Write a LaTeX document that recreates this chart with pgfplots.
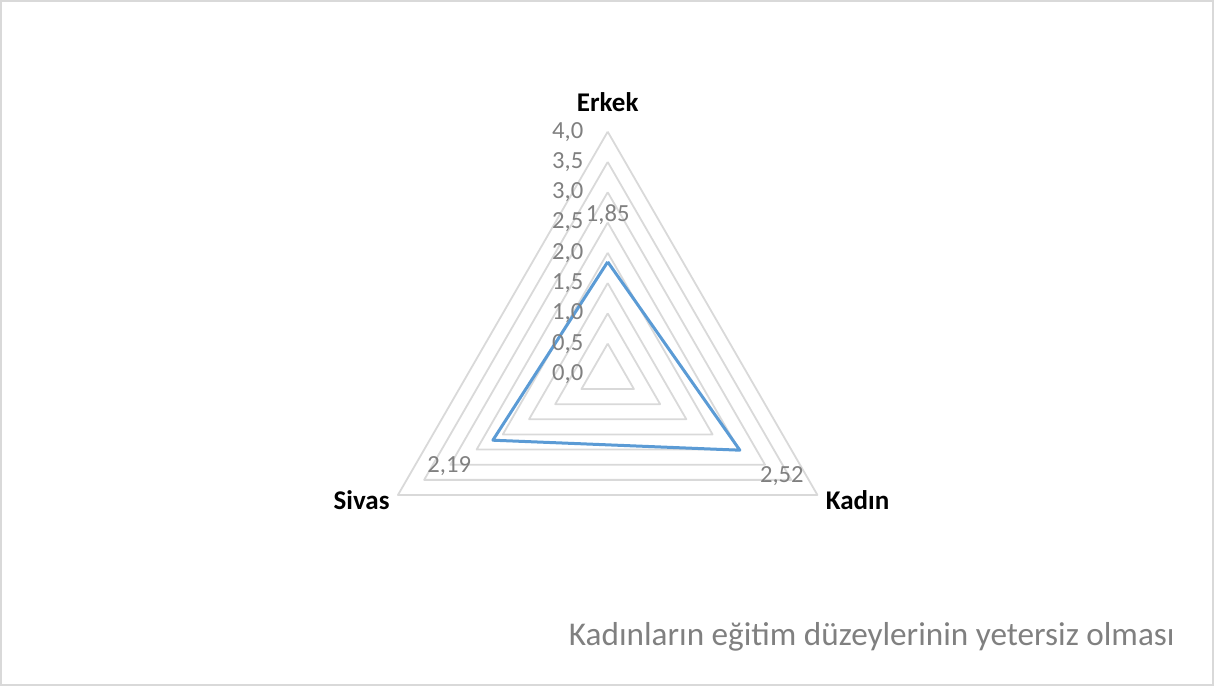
\documentclass[border=0pt]{standalone}
\usepackage{fontspec}
\setmainfont{Carlito}
\usepackage{pgfplots}
\pgfplotsset{compat=1.18}
\usepgfplotslibrary{polar}
\definecolor{gridc}{HTML}{D9D9D9}
\definecolor{labc}{HTML}{808080}
\definecolor{serc}{HTML}{5B9BD5}
\begin{document}
\begin{tikzpicture}
\useasboundingbox (0pt,0pt) rectangle (607pt,343pt);
\draw[gridc, line width=1pt] (0.5pt,0.5pt) rectangle (606.5pt,342.5pt);
\begin{polaraxis}[
  at={(303.85pt,156.05pt)}, anchor=center,
  scale only axis, width=242.2pt, height=242.2pt,
  xmin=0, xmax=360, ymin=0, ymax=4,
  hide axis, clip=false,
]
\pgfplotsinvokeforeach{0.5,1.0,1.5,2.0,2.5,3.0,3.5,4.0}{
  \addplot[gridc, line width=0.9pt, line join=round] coordinates {(90,#1) (330,#1) (210,#1) (90,#1)};
}
\addplot[serc, line width=1.5pt, line join=round] coordinates {(90,1.85) (330,2.52) (210,2.19) (90,1.85)};
% radial tick labels
\begin{scope}[every node/.style={anchor=east, inner sep=0pt, xshift=-12pt, text=labc, font=\fontsize{12.3}{13}\selectfont}]
\node at (axis cs:90,0) {0,0};
\node at (axis cs:90,0.5) {0,5};
\node at (axis cs:90,1.0) {1,0};
\node at (axis cs:90,1.5) {1,5};
\node at (axis cs:90,2.0) {2,0};
\node at (axis cs:90,2.5) {2,5};
\node at (axis cs:90,3.0) {3,0};
\node at (axis cs:90,3.5) {3,5};
\node at (axis cs:90,4.0) {4,0};
\end{scope}
% data labels
\begin{scope}[every node/.style={inner sep=0pt, text=labc, font=\fontsize{12.3}{13}\selectfont}]
\node at ([yshift=23.5pt]axis cs:90,1.85) {1,85};
\node at ([xshift=21pt,yshift=-13pt]axis cs:330,2.52) {2,52};
\node at ([xshift=-21.8pt,yshift=-13pt]axis cs:210,2.19) {2,19};
\end{scope}
% category labels
\node[anchor=base, inner sep=0pt, font=\fontsize{13.5}{15}\selectfont\bfseries] at ([yshift=10pt]axis cs:90,4) {Erkek};
\node[anchor=west, inner sep=0pt, font=\fontsize{13.5}{15}\selectfont\bfseries] at ([xshift=4pt,yshift=-2.5pt]axis cs:330,4) {Kadın};
\node[anchor=east, inner sep=0pt, font=\fontsize{13.5}{15}\selectfont\bfseries] at ([xshift=-4pt,yshift=-2.5pt]axis cs:210,4) {Sivas};
\end{polaraxis}
\node[anchor=base east, inner sep=0pt, text=labc, font=\fontsize{16.6}{18}\selectfont] at (587.5pt,20.5pt) {Kadınların eğitim düzeylerinin yetersiz olması};
\end{tikzpicture}
\end{document}
